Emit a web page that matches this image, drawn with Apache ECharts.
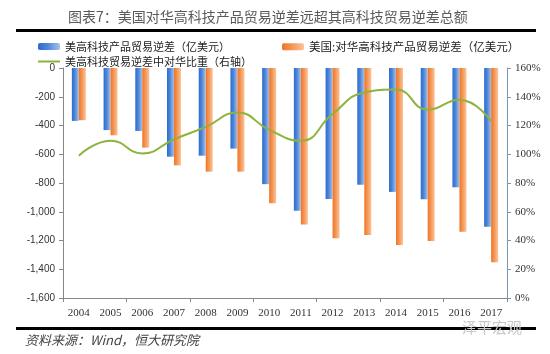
<!DOCTYPE html>
<html>
<head>
<meta charset="utf-8">
<script src="https://cdn.jsdelivr.net/npm/echarts@6/dist/echarts.min.js"></script>
<style>
  html, body { margin: 0; padding: 0; background: #fff; }
  #chart { width: 550px; height: 354px; }
</style>
</head>
<body>
<div id="chart"></div>
<script>
// 数据
const years = ['2004', '2005', '2006', '2007', '2008', '2009', '2010', '2011', '2012', '2013', '2014', '2015', '2016', '2017'];
const usDeficit = [-368, -432, -438, -617, -610, -561, -808, -993, -911, -812, -862, -913, -830, -1104];
const chinaDeficit = [-363, -468, -554, -677, -721, -721, -941, -1088, -1185, -1162, -1231, -1203, -1139, -1352];
const chinaShare = [99, 109.4, 100.6, 110.4, 119, 129, 117, 109.4, 128, 143, 145, 131, 138, 123];

const nameUs = '美高科技产品贸易逆差（亿美元）';
const nameChina = '美国:对华高科技产品贸易逆差（亿美元）';
const nameShare = '美高科技贸易逆差中对华比重（右轴）';

const cjk = '"Noto Sans CJK SC", sans-serif';
const serif = '"Liberation Serif", "DejaVu Serif", serif';

const blueFill = new echarts.graphic.LinearGradient(0, 0, 1, 0, [
  {offset: 0, color: '#2a6cd0'},
  {offset: 0.45, color: '#4f87d8'},
  {offset: 1, color: '#a7c1e8'}
]);
const orangeFill = new echarts.graphic.LinearGradient(0, 0, 1, 0, [
  {offset: 0, color: '#ef7325'},
  {offset: 0.5, color: '#f59a5a'},
  {offset: 1, color: '#fbc49a'}
]);

const myChart = echarts.init(document.getElementById('chart'));

const legendText = {fontFamily: cjk, fontSize: 11, color: '#222'};

const option = {
  backgroundColor: '#fff',
  animation: false,
  title: {
    text: '图表7：美国对华高科技产品贸易逆差远超其高科技贸易逆差总额',
    left: 63,
    top: 5,
    textStyle: {fontFamily: cjk, fontSize: 14, fontWeight: 'normal', color: '#5a5a5a'}
  },
  legend: [
    {
      data: [nameUs], left: 33, top: 36, itemWidth: 22, itemHeight: 7, itemGap: 4,
      textStyle: legendText
    },
    {
      data: [nameChina], left: 277, top: 36, itemWidth: 22, itemHeight: 7,
      textStyle: Object.assign({}, legendText, {fontSize: 11.5})
    },
    {
      data: [{name: nameShare, icon: 'rect'}], left: 33, top: 51, itemWidth: 22, itemHeight: 2,
      textStyle: legendText
    }
  ],
  grid: {left: 63, right: 43, top: 68, bottom: 56},
  xAxis: [
    {
      type: 'category',
      data: years,
      position: 'bottom',
      axisLine: {show: false},
      axisTick: {show: false},
      axisLabel: {fontFamily: serif, fontSize: 11, color: '#333', margin: 10}
    },
    {
      type: 'category',
      data: years,
      position: 'top',
      axisLine: {show: true, lineStyle: {color: '#888', width: 1}},
      axisTick: {show: true, inside: true, length: 4, lineStyle: {color: '#888'}},
      axisLabel: {show: false}
    }
  ],
  yAxis: [
    {
      type: 'value',
      min: -1600,
      max: 0,
      interval: 200,
      splitLine: {show: false},
      axisLine: {show: true, lineStyle: {color: '#888'}},
      axisTick: {show: true, length: 4, lineStyle: {color: '#888'}},
      axisLabel: {
        fontFamily: '"Liberation Sans", Arial, sans-serif', fontSize: 10, color: '#333', margin: 8,
        formatter: function (v) { return v.toLocaleString('en-US'); }
      }
    },
    {
      type: 'value',
      min: 0,
      max: 160,
      interval: 20,
      position: 'right',
      splitLine: {show: false},
      axisLine: {show: true, lineStyle: {color: '#7f96b2'}},
      axisTick: {show: true, length: 4, lineStyle: {color: '#7f96b2'}},
      axisLabel: {
        fontFamily: '"Liberation Serif", serif', fontSize: 11, color: '#333', margin: 8,
        formatter: '{value}%'
      }
    }
  ],
  graphic: [
    {type: 'rect', shape: {x: 16, y: 29, width: 520, height: 3}, style: {fill: '#000'}},
    {type: 'rect', shape: {x: 16, y: 327, width: 520, height: 3}, style: {fill: '#000'}},
    {
      type: 'text', left: 25, top: 334,
      style: {text: '资料来源：Wind，恒大研究院', fontFamily: cjk, fontSize: 13, fontStyle: 'italic', fill: '#444'}
    },
    {
      type: 'text', left: 462, top: 320, z: 100,
      style: {text: '泽平宏观', fontFamily: cjk, fontSize: 15, fill: '#c8c8c8'}
    }
  ],
  series: [
    {
      name: nameUs,
      type: 'bar',
      xAxisIndex: 0,
      yAxisIndex: 0,
      barWidth: 7,
      barGap: '0%',
      itemStyle: {color: blueFill},
      data: usDeficit
    },
    {
      name: nameChina,
      type: 'bar',
      xAxisIndex: 0,
      yAxisIndex: 0,
      barWidth: 7,
      barGap: '0%',
      itemStyle: {color: orangeFill},
      data: chinaDeficit
    },
    {
      name: nameShare,
      type: 'line',
      xAxisIndex: 0,
      yAxisIndex: 1,
      smooth: true,
      showSymbol: false,
      symbol: 'none',
      lineStyle: {color: '#8db33a', width: 2},
      itemStyle: {color: '#8db33a'},
      data: chinaShare
    }
  ]
};

myChart.setOption(option);
</script>
</body>
</html>
